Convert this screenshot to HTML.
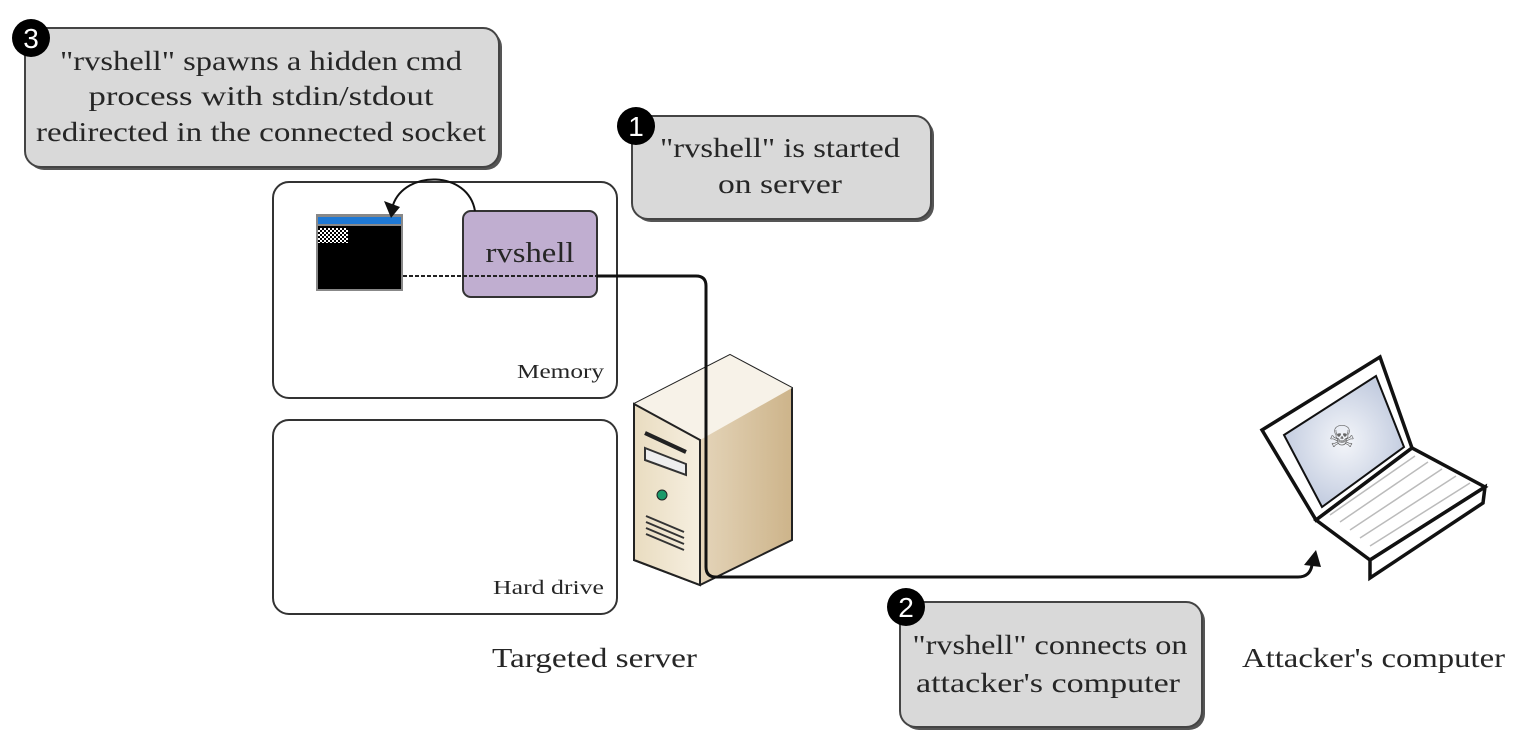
<!DOCTYPE html>
<html><head><meta charset="utf-8"><style>html,body{margin:0;padding:0;background:#fff}svg{display:block}text{font-family:"Liberation Serif",serif;fill:#262626}</style></head>
<body>
<svg width="1524" height="756" viewBox="0 0 1524 756" xmlns="http://www.w3.org/2000/svg">
<defs>
<linearGradient id="sf" x1="0" x2="1"><stop offset="0" stop-color="#e9dcc0"/><stop offset="1" stop-color="#f6efe0"/></linearGradient>
<linearGradient id="ss" x1="0" x2="1"><stop offset="0" stop-color="#f5ecdc"/><stop offset="1" stop-color="#cdb48a"/></linearGradient>
<radialGradient id="scr"><stop offset="0" stop-color="#f4f6fa"/><stop offset="1" stop-color="#c4cde0"/></radialGradient>
<pattern id="chk" width="4" height="4" patternUnits="userSpaceOnUse"><rect width="4" height="4" fill="#000"/><rect width="2" height="2" fill="#fff"/><rect x="2" y="2" width="2" height="2" fill="#fff"/></pattern>
</defs>
<!-- callout 3 -->
<rect x="28" y="31" width="474" height="139" rx="16" fill="#555"/>
<rect x="25" y="28" width="474" height="139" rx="16" fill="#d9d9d9" stroke="#444" stroke-width="2"/>
<text x="261" y="70" font-size="27" text-anchor="middle" textLength="402" lengthAdjust="spacingAndGlyphs">"rvshell" spawns a hidden cmd</text>
<text x="261" y="105" font-size="27" text-anchor="middle" textLength="345" lengthAdjust="spacingAndGlyphs">process with stdin/stdout</text>
<text x="261" y="141" font-size="27" text-anchor="middle" textLength="450" lengthAdjust="spacingAndGlyphs">redirected in the connected socket</text>
<circle cx="31" cy="38" r="19" fill="#000"/><text x="31" y="48" font-size="28" style="fill:#fff;font-family:'Liberation Sans'" text-anchor="middle">3</text>
<!-- callout 1 -->
<rect x="635" y="119" width="299" height="103" rx="16" fill="#555"/>
<rect x="632" y="116" width="299" height="103" rx="16" fill="#d9d9d9" stroke="#444" stroke-width="2"/>
<text x="780" y="157" font-size="27" text-anchor="middle" textLength="240" lengthAdjust="spacingAndGlyphs">"rvshell" is started</text>
<text x="780" y="193" font-size="27" text-anchor="middle" textLength="124" lengthAdjust="spacingAndGlyphs">on server</text>
<circle cx="636" cy="126" r="19" fill="#000"/><text x="636" y="136" font-size="28" style="fill:#fff;font-family:'Liberation Sans'" text-anchor="middle">1</text>
<!-- callout 2 -->
<rect x="903" y="605" width="302" height="125" rx="16" fill="#555"/>
<rect x="900" y="602" width="302" height="125" rx="16" fill="#d9d9d9" stroke="#444" stroke-width="2"/>
<text x="1050" y="654" font-size="27" text-anchor="middle" textLength="275" lengthAdjust="spacingAndGlyphs">"rvshell" connects on</text>
<text x="1048" y="692" font-size="27" text-anchor="middle" textLength="264" lengthAdjust="spacingAndGlyphs">attacker's computer</text>
<circle cx="906" cy="607" r="19" fill="#000"/><text x="906" y="617" font-size="28" style="fill:#fff;font-family:'Liberation Sans'" text-anchor="middle">2</text>
<!-- memory / hard drive -->
<rect x="273" y="182" width="344" height="216" rx="16" fill="#fff" stroke="#333" stroke-width="2"/>
<text x="604" y="378" font-size="20" text-anchor="end" textLength="87" lengthAdjust="spacingAndGlyphs">Memory</text>
<rect x="273" y="420" width="344" height="194" rx="16" fill="#fff" stroke="#333" stroke-width="2"/>
<text x="604" y="594" font-size="20" text-anchor="end" textLength="111" lengthAdjust="spacingAndGlyphs">Hard drive</text>
<!-- console -->
<rect x="316" y="214" width="87" height="77" fill="#888"/>
<rect x="318" y="217" width="83" height="7" fill="#1e78d4"/>
<rect x="318" y="226" width="83" height="63" fill="#000"/>
<rect x="318" y="228" width="30" height="15" fill="url(#chk)"/>
<!-- rvshell -->
<rect x="463" y="211" width="134" height="86" rx="8" fill="#c0aed0" stroke="#333" stroke-width="2"/>
<text x="530" y="262" font-size="28" text-anchor="middle" textLength="89" lengthAdjust="spacingAndGlyphs">rvshell</text>
<!-- loop arrow -->
<path d="M475 211 C468 170 405 170 393 205" fill="none" stroke="#111" stroke-width="2"/>
<polygon points="384,201 400,207 391,218" fill="#111"/>
<!-- dashed -->
<line x1="403" y1="276" x2="597" y2="276" stroke="#222" stroke-width="2" stroke-dasharray="4,2"/>
<!-- server -->
<polygon points="634,404 730,355 792,388 792,540 700,585 634,560" fill="url(#ss)" stroke="#222" stroke-width="2"/>
<polygon points="634,404 730,355 792,388 700,440" fill="#f7f2e8" stroke="none"/>
<polygon points="634,404 700,440 700,585 634,560" fill="url(#sf)" stroke="#222" stroke-width="2"/>
<line x1="645" y1="433" x2="686" y2="452" stroke="#222" stroke-width="4"/>
<polygon points="645,448 686,464 686,475 645,460" fill="#eee" stroke="#333" stroke-width="2"/>
<circle cx="662" cy="495" r="5" fill="#1a9a6a" stroke="#222"/>
<g stroke="#333" stroke-width="2"><line x1="646" y1="516" x2="684" y2="532"/><line x1="646" y1="522" x2="684" y2="538"/><line x1="646" y1="528" x2="684" y2="544"/><line x1="646" y1="534" x2="684" y2="550"/></g>
<!-- connector -->
<path d="M597 276 H696 Q706 276 706 286 V567 Q706 577 716 577 H1298 Q1310 577 1312 565" fill="none" stroke="#111" stroke-width="3"/>
<polygon points="1304,565 1321,567 1316,550" fill="#111"/>
<!-- laptop -->
<polygon points="1262,430 1380,357 1412,448 1316,520" fill="#fff" stroke="#111" stroke-width="3.5"/>
<polygon points="1284,435 1376,376 1404,447 1322,507" fill="url(#scr)" stroke="#111" stroke-width="2"/>
<text x="1342" y="447" font-size="30" style="fill:#666" text-anchor="middle">☠</text>
<polygon points="1316,520 1412,448 1485,487 1370,560" fill="#fff" stroke="#111" stroke-width="3.5"/>
<polygon points="1370,560 1485,487 1483,503 1370,578" fill="#fff" stroke="#111" stroke-width="3.5"/>
<g stroke="#bbb" stroke-width="1.5" fill="none">
<path d="M1330 515 L1415 456 M1340 522 L1428 462 M1350 530 L1442 469 M1360 538 L1456 476 M1370 546 L1470 483"/>
</g>
<!-- labels -->
<text x="492" y="667" font-size="27" textLength="205" lengthAdjust="spacingAndGlyphs">Targeted server</text>
<text x="1242" y="667" font-size="27" textLength="263" lengthAdjust="spacingAndGlyphs">Attacker's computer</text>
</svg>
</body></html>
